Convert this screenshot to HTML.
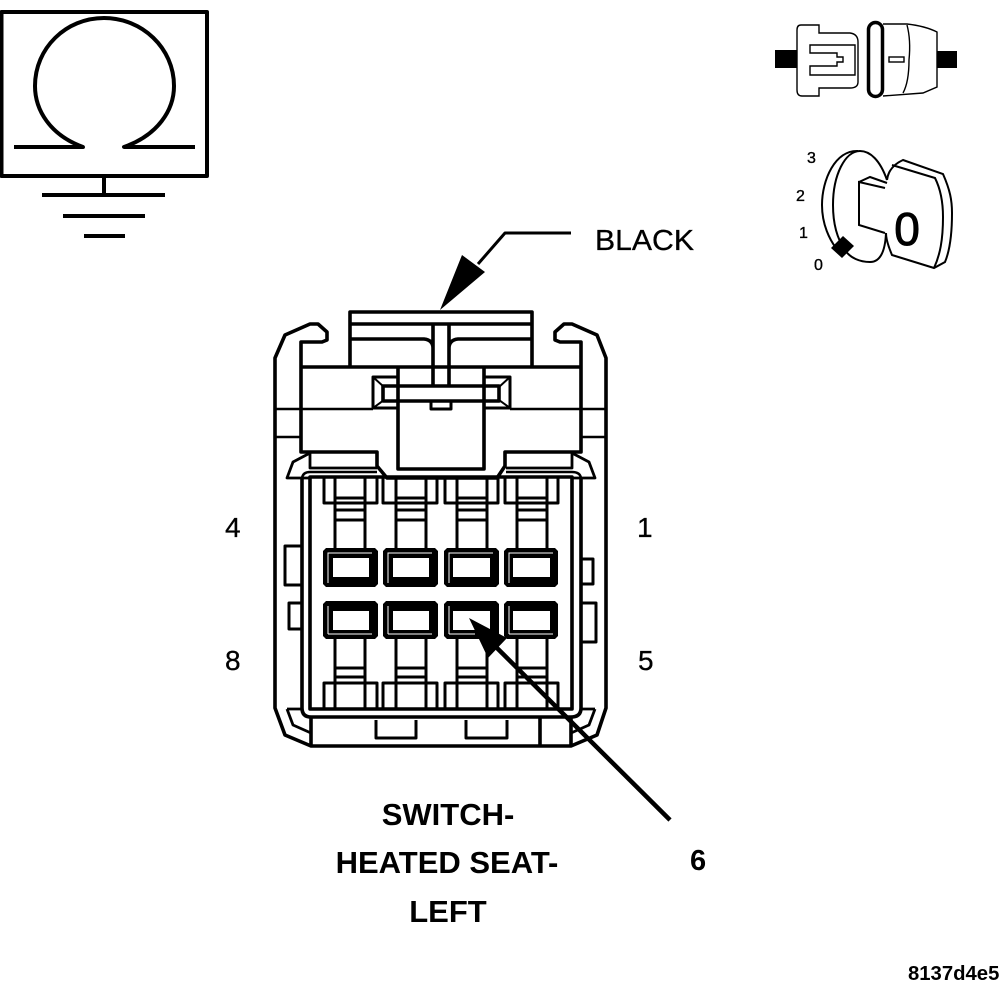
<!DOCTYPE html>
<html><head><meta charset="utf-8"><style>
html,body{margin:0;padding:0;background:#fff}
svg{display:block}
text{font-family:"Liberation Sans",sans-serif;fill:#000}
</style></head><body>
<svg width="1008" height="1000" viewBox="0 0 1008 1000" xmlns="http://www.w3.org/2000/svg">
<g fill="none" stroke="#000" stroke-width="3.6" stroke-linejoin="round">
<!-- omega -->
<rect x="1.5" y="12" width="205.5" height="164" stroke-width="4"/>
<path d="M14 147H83C50 135 35 110 35 86C35 48 66 18 104 18C142 18 174 48 174 86C174 110 158 135 124 147H195" stroke-width="4"/>
<path d="M104 176V195M42 195H165M63 216H145M84 236H125" stroke-width="4"/>
<!-- leader black -->
<path d="M571 233H505L478 264" stroke-width="3"/>
<!-- connector outer -->
<path d="M275 708V358L285 335L310 324H318L327 332V340L322 342H301V452H377V466L387 478H497L505 466V452H581V342H560L555 340V332L564 324H572L597 335L606 358V708L597 735L571 746H311L285 735Z"/>
<!-- top cap -->
<path d="M350 367V312H532V367M350 324H532M350 339H424Q433 340 433 348M532 339H458Q449 340 449 348M433 324V386M449 324V386"/>
<!-- body lines -->
<path d="M301 367H581"/>
<path d="M398 367V469H484V367"/>
<rect x="373" y="377" width="25" height="31" stroke-width="3"/>
<rect x="484" y="377" width="26" height="31" stroke-width="3"/>
<path d="M373 377L384 387M373 408L384 400M510 377L499 387M510 408L499 400" stroke-width="2"/>
<rect x="383" y="386" width="116" height="15"/>
<path d="M431 401V409H451V401" stroke-width="3"/>
<path d="M276 409H373M510 409H605M276 437H301M581 437H605" stroke-width="2.5"/>
<!-- wings -->
<path d="M310 453L293 462L287 478H310M310 453V468H377M572 453L589 462L595 478H572M572 453V468H506" stroke-width="2.8"/>
<path d="M287 709L293 725L311 733M595 709L589 725L571 733M287 709H302M595 709H580" stroke-width="2.8"/>
<!-- frames -->
<path d="M302 478V708Q302 717 311 717H571Q581 717 581 708V478" />
<path d="M302 478Q303 472 310 472H377M581 478Q580 472 572 472H506" stroke-width="2.5"/>
<rect x="310" y="477" width="262" height="232"/>
<path d="M311 717V746M571 717V746M540 717V746"/>
<path d="M376 720V738H416V720M466 720V738H507V720" stroke-width="3"/>
<!-- side tabs -->
<path d="M301 546H285V585H301M301 603H289V629H301M582 559H593V584H582M582 603H596V642H582" stroke-width="3"/>
<!-- stems/shields -->
<g stroke-width="3">
<path d="M335 477V548M365 477V548M335 639V709M365 639V709M335 498H365M335 510H365M335 520H365M335 668H365M335 677H365"/>
<path d="M324 477V503H377V477M324 709V683H377V709"/>
<path d="M396 477V548M426 477V548M396 639V709M426 639V709M396 498H426M396 510H426M396 520H426M396 668H426M396 677H426"/>
<path d="M383 477V503H437V477M383 709V683H437V709"/>
<path d="M457 477V548M487 477V548M457 639V709M487 639V709M457 498H487M457 510H487M457 520H487M457 668H487M457 677H487"/>
<path d="M445 477V503H498V477M445 709V683H498V709"/>
<path d="M517 477V548M547 477V548M517 639V709M547 639V709M517 498H547M517 510H547M517 520H547M517 668H547M517 677H547"/>
<path d="M505 477V503H558V477M505 709V683H558V709"/>
</g>
</g>
<!-- terminals -->
<g fill="#000">
<path fill-rule="evenodd" d="M326 548H375L378 551V584L375 587H326L323 584V551ZM333 558V577H369V558Z"/>
<path fill-rule="evenodd" d="M386 548H435L438 551V584L435 587H386L383 584V551ZM393 558V577H429V558Z"/>
<path fill-rule="evenodd" d="M447 548H496L499 551V584L496 587H447L444 584V551ZM453 558V577H490V558Z"/>
<path fill-rule="evenodd" d="M507 548H555L558 551V584L555 587H507L504 584V551ZM513 558V577H550V558Z"/>
<path fill-rule="evenodd" d="M326 601H375L378 604V636L375 639H326L323 636V604ZM333 611V630H369V611Z"/>
<path fill-rule="evenodd" d="M386 601H435L438 604V636L435 639H386L383 636V604ZM393 611V630H429V611Z"/>
<path fill-rule="evenodd" d="M447 601H496L499 604V636L496 639H447L444 636V604ZM453 611V630H490V611Z"/>
<path fill-rule="evenodd" d="M507 601H555L558 604V636L555 639H507L504 636V604ZM513 611V630H550V611Z"/>
</g>
<g fill="none" stroke="#fff" stroke-width="1">
<path d="M328 583V553H372M388 583V553H432M449 583V553H493M509 583V553H553"/>
<path d="M328 634V606M328 634H372M388 634V606M388 634H432M449 634V606M449 634H475M509 634V606M509 634H553"/>
</g>
<!-- arrows -->
<polygon points="440,310 462,255 485,272" fill="#000"/>
<polygon points="469,618 507,638 488,658" fill="#000"/>
<path d="M495 646L670 820" stroke="#000" stroke-width="4.5" fill="none"/>
<!-- switch icon -->
<g fill="none" stroke="#000" stroke-width="1.4">
<path d="M801 25H819V33H850Q858 34 858 42V82Q858 88 850 88H819V96H802Q797 96 797 90V30Q797 25 801 25Z"/>
<path d="M810 45H855V75H810V66H837V62H843V57H837V53H810Z"/>
<path d="M883 24H907Q925 26 937 32V87L923 93L883 96"/>
<path d="M907 25Q911 40 909 60Q909 82 903 93"/>
<rect x="889" y="57" width="15" height="5"/>
</g>
<rect x="868.5" y="22.5" width="14" height="74" rx="7" fill="none" stroke="#000" stroke-width="3.5"/>
<rect x="775" y="50" width="22" height="18" fill="#000"/>
<rect x="937" y="51" width="20" height="17" fill="#000"/>
<!-- key icon -->
<g fill="none" stroke="#000" stroke-width="2">
<path d="M858 151C835 150 822 180 822 205C822 225 830 240 836 248"/>
<path d="M887 180C880 160 870 151 860 151C845 151 833 175 833 205C833 225 838 240 845 250C850 258 860 262 870 262C878 262 885 255 886 233"/>
<path d="M885 188L859 182V225L885 233M859 182L870 177L887 183"/>
<path d="M887 180C888 172 892 165 903 160L943 174C950 190 952 200 952 213C952 235 950 250 945 262L934 268L892 255C889 248 886 240 886 233"/>
<path d="M892 165L935 178C941 190 943 205 943 217C943 240 940 255 934 268"/>
</g>
<polygon points="831,248 843,236 854,246 842,258" fill="#000"/>
<text x="907" y="245" font-size="46" text-anchor="middle" stroke="#000" stroke-width="1">0</text>
<g stroke="#000" stroke-width="0.35">
<text x="807" y="163" font-size="16">3</text>
<text x="796" y="201" font-size="16">2</text>
<text x="799" y="238" font-size="16">1</text>
<text x="814" y="270" font-size="16">0</text>
</g>
<!-- labels -->
<g stroke="#000" stroke-width="0.3">
<text x="595" y="250" font-size="29" textLength="99" lengthAdjust="spacingAndGlyphs">BLACK</text>
<text x="225" y="537" font-size="28">4</text>
<text x="637" y="537" font-size="28">1</text>
<text x="225" y="670" font-size="28">8</text>
<text x="638" y="670" font-size="28">5</text>
</g>
<text x="448" y="825" font-size="31" font-weight="bold" text-anchor="middle">SWITCH-</text>
<text x="447" y="873" font-size="31" font-weight="bold" text-anchor="middle">HEATED SEAT-</text>
<text x="448" y="922" font-size="31" font-weight="bold" text-anchor="middle">LEFT</text>
<text x="690" y="870" font-size="29" font-weight="bold">6</text>
<text x="908" y="980" font-size="20.3" font-weight="bold">8137d4e5</text>
</svg>
</body></html>
